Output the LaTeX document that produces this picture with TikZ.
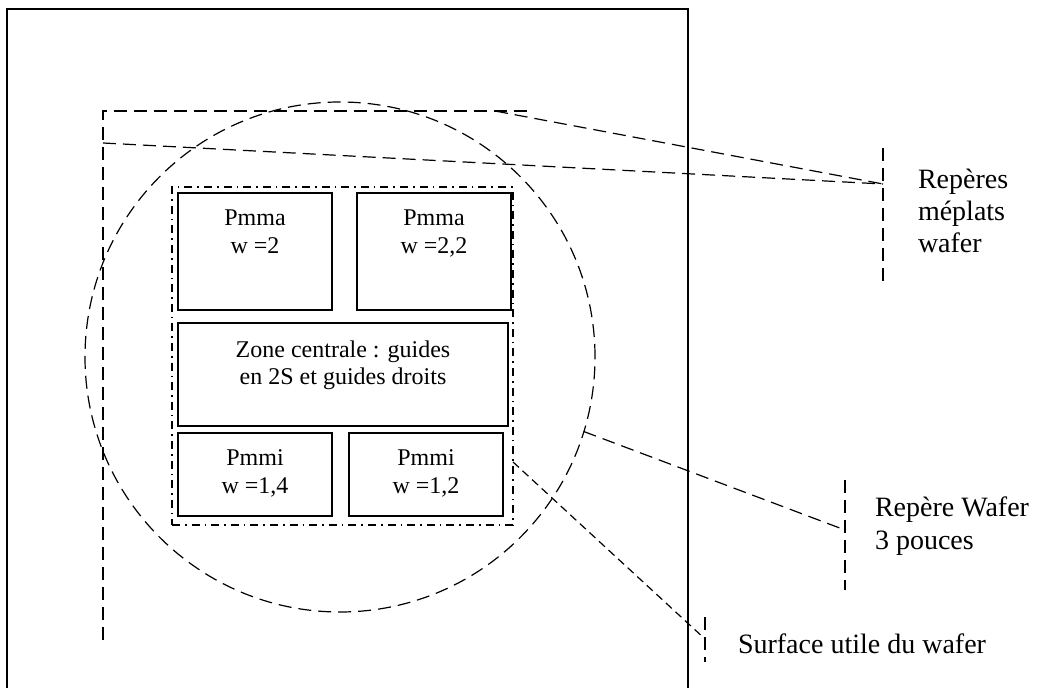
\documentclass[tikz,border=0pt]{standalone}
\usepackage{fontspec}
\setmainfont{Liberation Serif}
\usetikzlibrary{calc}

\begin{document}
\begin{tikzpicture}[x=0.5pt, y=-0.5pt,
  every node/.style={inner sep=0pt, outer sep=0pt},
  box/.style={draw, line width=0.6pt, minimum width=77pt},
  boxtext/.style={anchor=base, align=center, font=\fontsize{12}{13.8}\selectfont},
  note/.style={anchor=base west, align=left, font=\fontsize{14}{16.1}\selectfont},
  longdash/.style={line width=0.6pt, dash pattern=on 6.5pt off 3.5pt},
  shortdash/.style={line width=0.6pt, dash pattern=on 4pt off 2.5pt},
  dashdot/.style={line width=0.6pt, dash pattern=on 4pt off 2.5pt on 0.8pt off 2.5pt}]

  \useasboundingbox (0,0) rectangle (1037,688);

  % --- substrate frame (open at the bottom) ----------------------------------
  \draw[line width=0.6pt] (7,700) -- (7,9) -- (688,9) -- (688,700);

  % --- wafer outline and flat marks ------------------------------------------
  \node[draw, circle, longdash, minimum size=255pt] (wafer) at (340,357) {};

  \coordinate (flatA) at (103,111);
  \coordinate (flatB) at (527,111);
  \coordinate (flatC) at (103,646);
  \coordinate (flatD) at (103,143);
  \coordinate (flatE) at (495,111);
  \coordinate (mtick) at (883,184);
  \draw[longdash] (flatB) -- (flatA) -- (flatC);
  \draw[longdash] (flatD) -- (mtick);
  \draw[longdash] (flatE) -- (mtick);

  % --- useful area and its zones ---------------------------------------------
  \node[draw, dashdot, minimum width=170.5pt, minimum height=169pt] (utile) at (342.5,356) {};

  \node[box, minimum height=58.5pt] (pmmaL) at (255,251.5) {};
  \node[box, minimum height=58.5pt] (pmmaR) at (434,251.5) {};
  \node[box, minimum width=165pt, minimum height=51.5pt] (zone) at (343,374.5) {};
  \node[box, minimum height=41.5pt] (pmmiL) at (255,474.5) {};
  \node[box, minimum height=41.5pt] (pmmiR) at (426,474.5) {};

  % (base = baseline of the last line)
  \node[boxtext] (pmmaLtxt) at ([yshift=-30.3pt]pmmaL.north) {Pmma\\w =2};
  \node[boxtext] (pmmaRtxt) at ([yshift=-30.3pt]pmmaR.north) {Pmma\\w =2,2};
  \node[boxtext] (zonetxt) at ([yshift=-31pt]zone.north) {Zone centrale : guides\\en 2S et guides droits};
  \node[boxtext] (pmmiLtxt) at ([yshift=-30.3pt]pmmiL.north) {Pmmi\\w =1,4};
  \node[boxtext] (pmmiRtxt) at ([yshift=-30.3pt]pmmiR.north) {Pmmi\\w =1,2};

  % --- callouts ---------------------------------------------------------------
  \draw[longdash] ($(mtick)+(0,-36)$) -- ($(mtick)+(0,102)$);
  \node[note] (flatlbl) at (918,253) {Repères\\méplats\\wafer};

  \coordinate (wtick) at (845,530);
  \draw[longdash] (wafer.-17.6) -- (wtick);
  \draw[longdash] ($(wtick)+(0,-50)$) -- ($(wtick)+(0,60)$);
  \node[note] (waferlbl) at (875,549) {Repère Wafer\\3 pouces};

  \coordinate (stick) at (705,639);
  \draw[shortdash] ([yshift=-53pt]utile.east) -- (stick);
  \draw[longdash] ($(stick)+(0,-22)$) -- ($(stick)+(0,23)$);
  \node[note] (surflbl) at (738,653) {Surface utile du wafer};

\end{tikzpicture}
\end{document}
